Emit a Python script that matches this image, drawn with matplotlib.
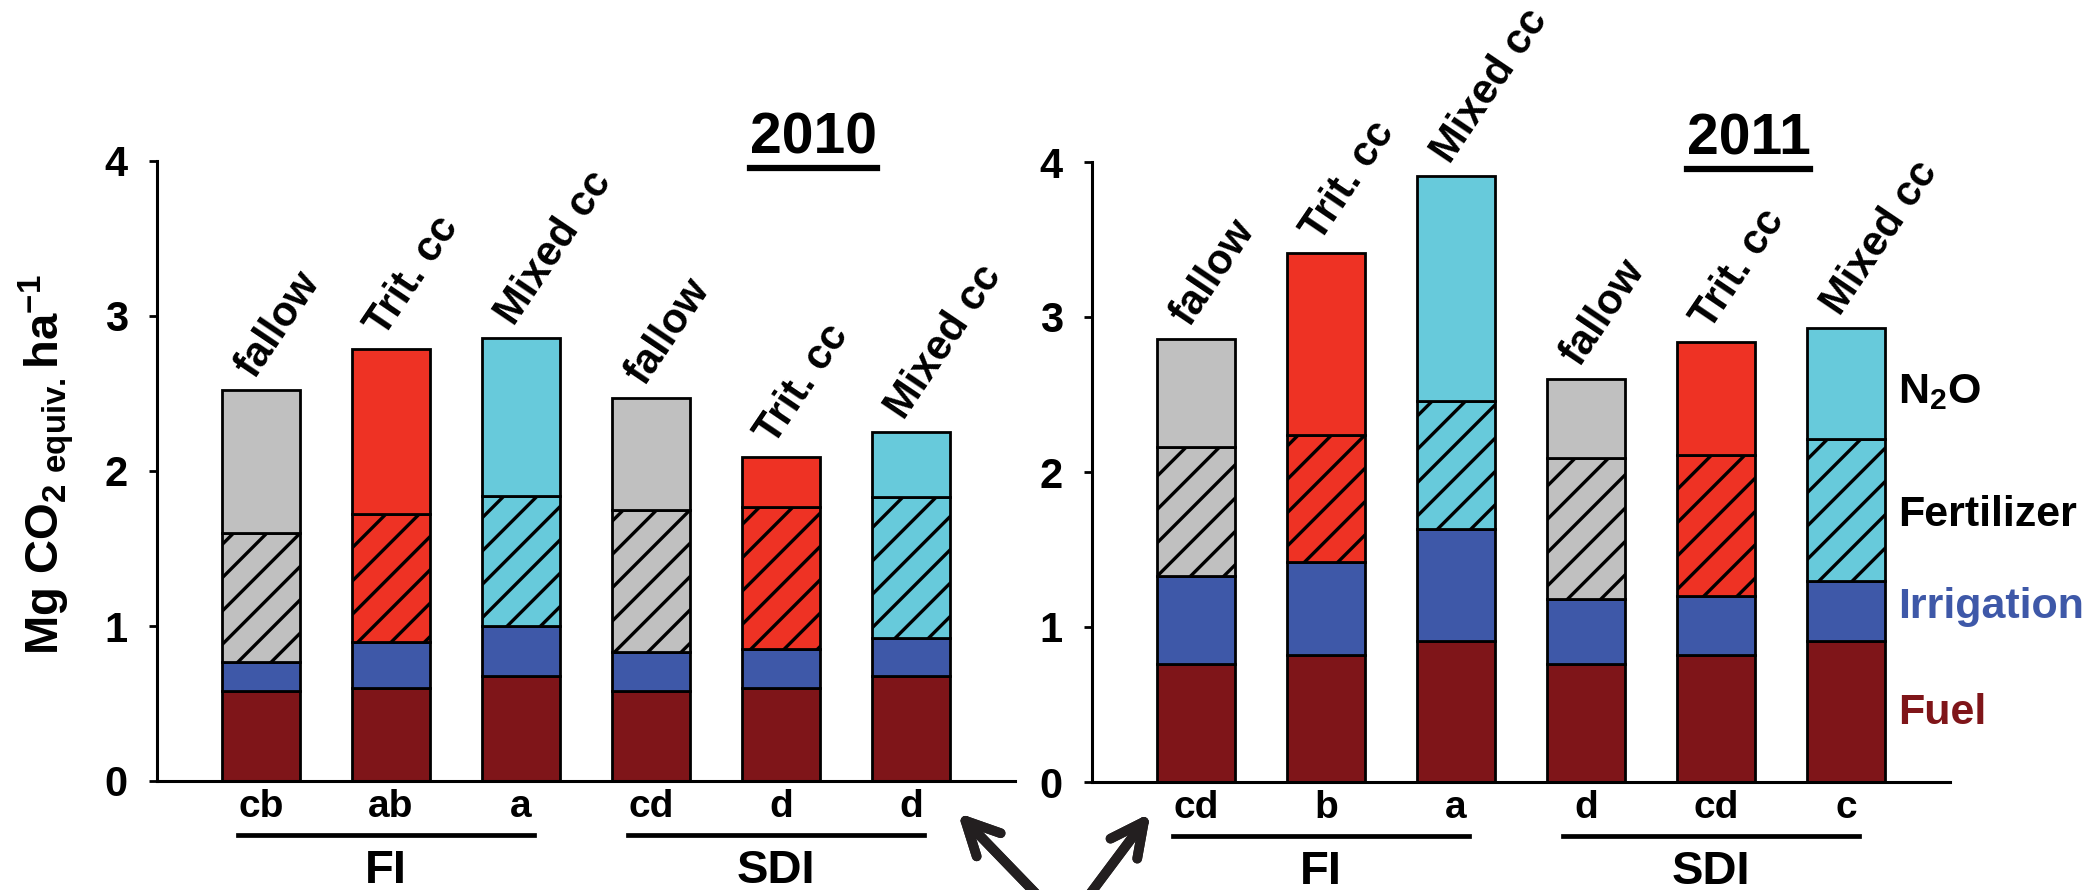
import matplotlib
matplotlib.use('Agg')
import matplotlib.pyplot as plt
from matplotlib.lines import Line2D
import numpy as np

plt.rcParams['font.family'] = ['Liberation Sans', 'DejaVu Sans']
plt.rcParams['font.weight'] = 'bold'
plt.rcParams['mathtext.fontset'] = 'custom'
plt.rcParams['mathtext.rm'] = 'Liberation Sans:bold'
plt.rcParams['mathtext.bf'] = 'Liberation Sans:bold'
plt.rcParams['mathtext.default'] = 'bf'
plt.rcParams['hatch.linewidth'] = 2.4

# data (Mg CO2 equiv. ha-1)
treatments = ['fallow', 'Trit. cc', 'Mixed cc', 'fallow', 'Trit. cc', 'Mixed cc']
systems = ['FI', 'SDI']

fuel_2010 = [0.58, 0.60, 0.68, 0.58, 0.60, 0.68]
irr_2010 = [0.19, 0.30, 0.32, 0.25, 0.25, 0.24]
fert_2010 = [0.83, 0.82, 0.84, 0.92, 0.92, 0.91]
n2o_2010 = [0.92, 1.07, 1.02, 0.72, 0.32, 0.42]
letters_2010 = ['cb', 'ab', 'a', 'cd', 'd', 'd']

fuel_2011 = [0.76, 0.82, 0.91, 0.76, 0.82, 0.91]
irr_2011 = [0.57, 0.60, 0.72, 0.42, 0.38, 0.39]
fert_2011 = [0.83, 0.82, 0.83, 0.91, 0.91, 0.91]
n2o_2011 = [0.70, 1.17, 1.45, 0.51, 0.73, 0.72]
letters_2011 = ['cd', 'b', 'a', 'd', 'cd', 'c']

legend_labels = ['N$_2$O', 'Fertilizer', 'Irrigation', 'Fuel']

# colours
fuel_col = '#7f1519'
irr_col = '#3e58a8'
treat_cols = ['#c0c0c0', '#ee3224', '#67cadb', '#c0c0c0', '#ee3224', '#67cadb']
legend_cols = ['black', 'black', irr_col, fuel_col]

W, H = 2084, 890
fig = plt.figure(figsize=(W / 100, H / 100), dpi=100)
ax1 = fig.add_axes([157 / W, 1 - 781 / H, 858 / W, 620 / H])
ax2 = fig.add_axes([1092 / W, 1 - 782 / H, 858 / W, 620 / H])


def draw_panel(ax, fuel, irr, fert, n2o, letters, year):
    x = np.arange(len(fuel))
    fuel = np.array(fuel)
    irr = np.array(irr)
    fert = np.array(fert)
    n2o = np.array(n2o)
    kw = dict(width=0.6, edgecolor='black', linewidth=2.0, zorder=2)
    ax.bar(x, fuel, color=fuel_col, **kw)
    ax.bar(x, irr, bottom=fuel, color=irr_col, **kw)
    ax.bar(x, fert, bottom=fuel + irr, color=treat_cols, hatch='/', **kw)
    total = fuel + irr + fert + n2o
    ax.bar(x, n2o, bottom=fuel + irr + fert, color=treat_cols, **kw)

    for i in range(len(x)):
        ax.text(x[i] - 0.05, total[i] + 0.07, treatments[i], rotation=56,
                rotation_mode='anchor', ha='left', va='baseline',
                fontsize=30, fontweight='bold', clip_on=False)
        ax.text(x[i], -0.235, letters[i], ha='center', va='baseline',
                fontsize=28, fontweight='bold', clip_on=False)

    # group lines and names
    for g, name in enumerate(systems):
        x0, x1 = 3 * g - 0.18, 3 * g + 2.1
        ax.add_line(Line2D([x0, x1], [-0.35, -0.35], color='black', lw=3.4,
                           clip_on=False))
        ax.text((x0 + x1) / 2, -0.655, name, ha='center', va='baseline',
                fontsize=34, fontweight='bold', clip_on=False)

    t = ax.text(4.25, 4.05, year, ha='center', va='baseline', fontsize=41,
                fontweight='bold', clip_on=False)

    ax.set_xlim(-0.8, 5.8)
    ax.set_ylim(0, 4)
    ax.set_xticks([])
    ax.set_yticks([0, 1, 2, 3, 4])
    ax.tick_params(axis='y', direction='out', length=6, width=2, pad=15,
                   labelsize=30)
    for lab in ax.get_yticklabels():
        lab.set_fontweight('bold')
    for s in ['top', 'right']:
        ax.spines[s].set_visible(False)
    for s in ['left', 'bottom']:
        ax.spines[s].set_linewidth(2.2)
    return t


title1 = draw_panel(ax1, fuel_2010, irr_2010, fert_2010, n2o_2010, letters_2010, '2010')
title2 = draw_panel(ax2, fuel_2011, irr_2011, fert_2011, n2o_2011, letters_2011, '2011')

# legend as coloured text at the right of the 2011 panel
for lab, col, yv in zip(legend_labels, legend_cols, [2.445, 1.65, 1.06, 0.374]):
    ax2.text(5.40, yv, lab, color=col, fontsize=31, fontweight='bold',
             ha='left', va='baseline', clip_on=False)

fig.text(0.022, 0.478, 'Mg CO$_{2\\ equiv.}$ha$^{-1}$', rotation=90,
         ha='center', va='center', fontsize=34, fontweight='bold')

# underline the year titles
fig.canvas.draw()
r = fig.canvas.get_renderer()
for t in [title1, title2]:
    bb = t.get_window_extent(r)
    fig.add_artist(Line2D([bb.x0, bb.x1], [bb.y0 - 3, bb.y0 - 3], color='black',
                          lw=4.5, transform=None))

# the two arrows at the bottom
arrow = dict(arrowstyle='->', lw=7, color='#231f20', mutation_scale=60)
fig.add_artist(plt.annotate('', xy=(956, 79), xytext=(1044, -12),
                            xycoords='figure pixels', textcoords='figure pixels',
                            arrowprops=arrow, annotation_clip=False))
fig.add_artist(plt.annotate('', xy=(1152, 79), xytext=(1084, -12),
                            xycoords='figure pixels', textcoords='figure pixels',
                            arrowprops=arrow, annotation_clip=False))

fig.savefig('out.png', dpi=100)
